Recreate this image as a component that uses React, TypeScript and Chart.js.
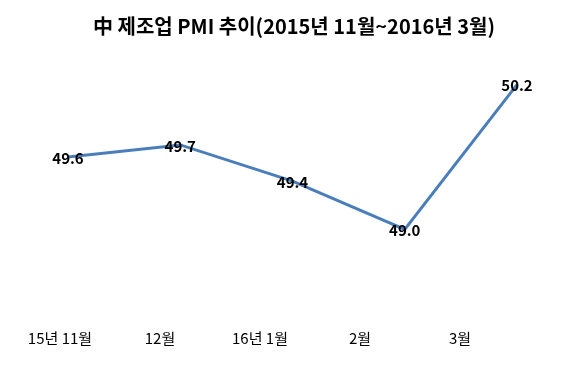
import React, { useEffect, useRef } from "react";
import { Chart, registerables } from "chart.js";

Chart.register(...registerables);

const titleText = "中 제조업 PMI 추이(2015년 11월~2016년 3월)";
const categories = ["15년 11월", "12월", "16년 1월", "2월", "3월"];
const pmiValues = [49.6, 49.7, 49.4, 49.0, 50.2];

const FONT = "'Noto Sans CJK KR', 'Noto Sans', sans-serif";

const valueLabels = {
  id: "valueLabels",
  afterDatasetsDraw(chart: any) {
    const ctx = chart.ctx;
    const meta = chart.getDatasetMeta(0);
    ctx.save();
    ctx.font = `bold 15px ${FONT}`;
    ctx.fillStyle = "#000";
    ctx.textAlign = "center";
    ctx.textBaseline = "middle";
    meta.data.forEach((pt: any, i: number) => {
      ctx.fillText(pmiValues[i].toFixed(1), pt.x, pt.y + 1);
    });
    ctx.restore();
  },
};

export default function App() {
  const ref = useRef<HTMLCanvasElement>(null);
  useEffect(() => {
    if (!ref.current) return;
    const chart = new Chart(ref.current, {
      type: "line",
      data: {
        datasets: [
          {
            data: pmiValues.map((v, i) => ({ x: i, y: v })),
            borderColor: "#4a7ebb",
            borderWidth: 3,
            pointRadius: 0,
            tension: 0,
            xAxisID: "x",
            yAxisID: "y",
          },
        ],
      },
      options: {
        animation: false,
        responsive: false,
        layout: { padding: { left: 10, right: 10, top: 0, bottom: 18 } },
        plugins: {
          legend: { display: false },
          tooltip: { enabled: false },
          title: {
            display: true,
            text: titleText,
            color: "#000",
            font: { family: FONT, size: 20, weight: "bold" },
            padding: { top: 14, bottom: 10 },
          },
        },
        scales: {
          x: {
            type: "linear",
            display: false,
            min: -0.5167,
            max: 4.5434,
          },
          xLabels: {
            type: "linear",
            position: "bottom",
            min: -0.5,
            max: 5.18,
            grid: { display: false, drawTicks: false },
            border: { display: false },
            afterBuildTicks: (axis: any) => {
              axis.ticks = categories.map((_, i) => ({ value: i }));
            },
            ticks: {
              padding: 0,
              color: "#000",
              font: { family: FONT, size: 15 },
              callback: (v: any) => categories[v] ?? "",
              maxRotation: 0,
              autoSkip: false,
            },
          },
          y: {
            type: "linear",
            display: false,
            min: 48.1736,
            max: 50.504,
          },
        },
      },
      plugins: [valueLabels],
    });
    return () => chart.destroy();
  }, []);
  return (
    <div style={{ position: "absolute", left: 0, top: 0, width: 588, height: 365, background: "#fff" }}>
      <canvas ref={ref} width={588} height={365} />
    </div>
  );
}
